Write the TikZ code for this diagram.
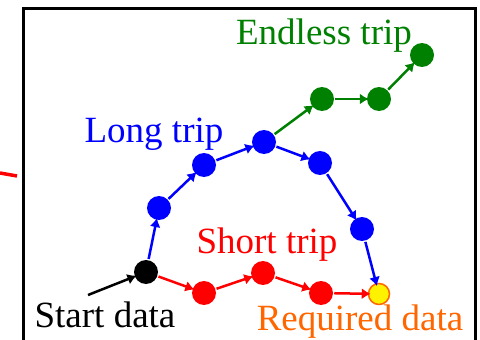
\documentclass[tikz,border=0pt]{standalone}
\usepackage{fontspec}
\setmainfont{Liberation Serif}
\newfontfamily\tripfont{Liberation Serif}
\usetikzlibrary{arrows.meta}
\definecolor{tripgreen}{RGB}{0,128,0}
\definecolor{reqorange}{RGB}{255,102,0}

\begin{document}
\begin{tikzpicture}[x=1pt, y=-1pt, line width=2.5pt,
      dot/.style={circle, inner sep=0pt, minimum size=24pt},
      lbl/.style={anchor=base, inner sep=0pt, font=\tripfont\fontsize{37}{40}\selectfont},
      >={Latex[length=9pt,width=11pt]}, shorten >=-3pt]

      \useasboundingbox (0,0) rectangle (480,340);
      \draw[line width=3pt, shorten >=0pt] (23,345) -- (23,8) -- (475,8) -- (475,345);
      \draw[red, line width=3.5pt, shorten >=0pt] (0,173) -- (17,176);

      % start and goal
      \node[dot, fill=black] (start) at (146,272) {};
      \node[dot, fill=yellow, draw=reqorange, line width=1.5pt, minimum size=21pt] (goal) at (379,294) {};
      \coordinate (from) at (88,295);

      % short trip
      \node[dot, fill=red] (s1) at (204,293) {};
      \node[dot, fill=red] (s2) at (263,273) {};
      \node[dot, fill=red] (s3) at (321,293) {};

      % long trip
      \node[dot, fill=blue] (l1) at (159,208) {};
      \node[dot, fill=blue] (l2) at (204,165) {};
      \node[dot, fill=blue] (l3) at (264,142) {};
      \node[dot, fill=blue] (l4) at (320,163) {};
      \node[dot, fill=blue] (l5) at (362,229) {};

      % endless trip
      \node[dot, fill=tripgreen] (e1) at (322,99) {};
      \node[dot, fill=tripgreen] (e2) at (379,99) {};
      \node[dot, fill=tripgreen] (e3) at (422,55) {};

      \node[lbl, tripgreen] (endless) at (324,44) {Endless trip};
      \node[lbl, blue] (long) at (154,142) {Long trip};
      \node[lbl, red] (short) at (267,253) {Short trip};
      \node[lbl] (startlbl) at (105,327) {Start data};
      \node[lbl, reqorange] (goallbl) at (360,330) {Required data};

      \path[->] (from) edge (start);
      \path[->, red] (start) edge (s1)
                    (s1) edge (s2)
                    (s2) edge (s3)
                    (s3) edge (goal);
      \path[->, blue] (start) edge (l1)
                     (l1) edge (l2)
                     (l2) edge (l3)
                     (l3) edge (l4)
                     (l4) edge (l5)
                     (l5) edge (goal);
      \path[->, tripgreen] (l3) edge (e1)
                          (e1) edge (e2)
                          (e2) edge (e3);
\end{tikzpicture}
\end{document}
